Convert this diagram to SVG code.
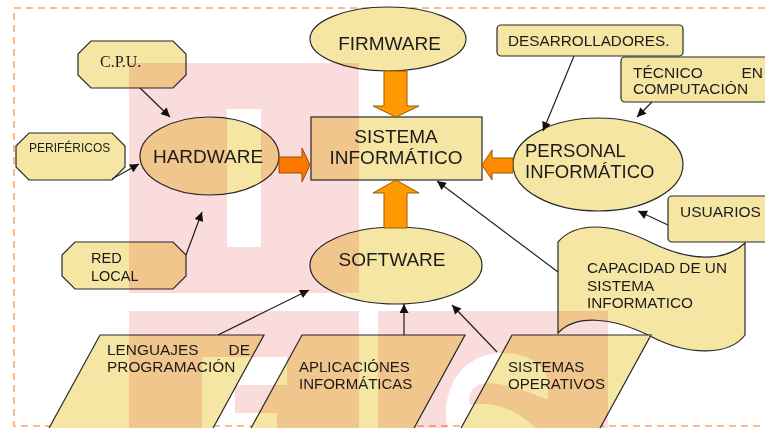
<svg xmlns="http://www.w3.org/2000/svg" width="765" height="428" viewBox="0 0 765 428">
<defs>
<style>
.n{fill:#F6E6A4;stroke:#2a2a2a;stroke-width:1.2}
.t{font-family:"Liberation Sans",Arial,sans-serif;fill:#1c1c1c}
.c{stroke:#222;stroke-width:1.2;fill:none}
.ba{stroke:#9a5a00;stroke-width:1}
</style>
<marker id="ah" viewBox="0 0 10 10" refX="10" refY="5" markerWidth="10" markerHeight="9" markerUnits="userSpaceOnUse" orient="auto">
<path d="M0,0 L10,5 L0,10 Z" fill="#111"/>
</marker>
</defs>
<rect x="0" y="0" width="765" height="428" fill="#fff"/>
<rect x="14" y="8" width="770" height="418" fill="none" stroke="#F9A56A" stroke-width="1.6" stroke-dasharray="7 5"/>

<g id="cpu"><path class="n" d="M91,41 H173 L186,54 V75 L173,88 H91 L78,75 V54 Z"/><text class="t" x="100" y="67" style="font-family:'Liberation Serif',serif" font-size="16">C.P.U.</text></g>
<g id="perifericos"><path class="n" d="M29,133 H112 L125,146 V167 L112,180 H29 L16,167 V146 Z"/><text class="t" x="29" y="152" font-size="12">PERIFÉRICOS</text></g>
<g id="redlocal"><path class="n" d="M75,242 H173 L186,255 V276 L173,289 H75 L62,276 V255 Z"/><text class="t" font-size="14.5"><tspan x="91" y="263">RED</tspan><tspan x="91" y="281">LOCAL</tspan></text></g>
<g id="hardware"><ellipse class="n" cx="209.5" cy="156" rx="69.5" ry="39"/><text class="t" x="208" y="163" font-size="19" text-anchor="middle">HARDWARE</text></g>
<g id="firmware"><ellipse class="n" cx="388" cy="39" rx="78" ry="32"/><text class="t" x="389.5" y="50" font-size="19" text-anchor="middle">FIRMWARE</text></g>
<g id="sistema"><rect class="n" x="311" y="117" width="171" height="63"/><text class="t" font-size="19" text-anchor="middle"><tspan x="396" y="143">SISTEMA</tspan><tspan x="396" y="164">INFORMÁTICO</tspan></text></g>
<g id="software"><ellipse class="n" cx="396" cy="265.5" rx="86" ry="38.5"/><text class="t" x="392" y="266" font-size="19" text-anchor="middle">SOFTWARE</text></g>
<g id="personal"><ellipse class="n" cx="598" cy="164.5" rx="85" ry="46.5"/><text class="t" font-size="18.5"><tspan x="525" y="157">PERSONAL</tspan><tspan x="525" y="178">INFORMÁTICO</tspan></text></g>
<g id="desarrolladores"><rect class="n" x="497" y="25" width="186" height="31" rx="4"/><text class="t" x="508" y="46" font-size="15.3">DESARROLLADORES.</text></g>
<g id="tecnico"><rect class="n" x="621" y="57" width="160" height="45" rx="4"/><text class="t" font-size="15.5"><tspan x="633" y="78">TÉCNICO</tspan><tspan x="763" y="78" text-anchor="end">EN</tspan><tspan x="633" y="94">COMPUTACIÓN</tspan></text></g>
<g id="usuarios"><rect class="n" x="668" y="196" width="110" height="46" rx="4"/><text class="t" x="680" y="217" font-size="15.5">USUARIOS</text></g>
<g id="capacidad"><path class="n" d="M558,242 C575,222 610,222 650,242 C690,262 725,262 745,243 L745,335 C730,355 690,357 650,336 C610,316 575,315 558,333 Z"/><text class="t" font-size="15.3"><tspan x="587" y="273">CAPACIDAD DE UN</tspan><tspan x="587" y="291">SISTEMA</tspan><tspan x="587" y="308">INFORMATICO</tspan></text></g>
<g id="lenguajes"><path class="n" d="M100,335 H264 L212,430 H48 Z"/><text class="t" font-size="15.4"><tspan x="107" y="355">LENGUAJES</tspan><tspan x="250" y="355" text-anchor="end">DE</tspan><tspan x="107" y="372">PROGRAMACIÓN</tspan></text></g>
<g id="aplicaciones"><path class="n" d="M302,335 H465 L413,430 H250 Z"/><text class="t" font-size="15"><tspan x="299" y="372">APLICACIÓNES</tspan><tspan x="299" y="389">INFORMÁTICAS</tspan></text></g>
<g id="sistemas"><path class="n" d="M512,335 H651 L599,430 H460 Z"/><text class="t" font-size="15.1"><tspan x="508" y="372">SISTEMAS</tspan><tspan x="508" y="389">OPERATIVOS</tspan></text></g>

<g id="connectors">
<line class="c" x1="140" y1="88" x2="170" y2="117" marker-end="url(#ah)"/>
<line class="c" x1="112" y1="179" x2="139" y2="164" marker-end="url(#ah)"/>
<line class="c" x1="186" y1="255" x2="202" y2="212" marker-end="url(#ah)"/>
<line class="c" x1="574" y1="56" x2="543" y2="131" marker-end="url(#ah)"/>
<line class="c" x1="652" y1="102" x2="637" y2="117" marker-end="url(#ah)"/>
<line class="c" x1="668" y1="225" x2="638" y2="211" marker-end="url(#ah)"/>
<line class="c" x1="558" y1="272" x2="437" y2="181" marker-end="url(#ah)"/>
<line class="c" x1="218" y1="335" x2="309" y2="290" marker-end="url(#ah)"/>
<line class="c" x1="404" y1="335" x2="404" y2="304" marker-end="url(#ah)"/>
<line class="c" x1="497" y1="352" x2="452" y2="305" marker-end="url(#ah)"/>
<path class="ba" fill="#FF9900" d="M384,71 H407 V106 H419 L396,117 L373,106 H384 Z"/>
<path class="ba" fill="#FF9900" d="M384,228 H407 V193 H419 L396,180 L373,193 H384 Z"/>
<path class="ba" fill="#FF8A00" d="M279,157 H302 V148 L310,165 L302,182 V173 H279 Z"/>
<path class="ba" fill="#FF8A00" d="M513,158 H492 V150 L482,165 L492,180 V173 H513 Z"/>
</g>

<g id="watermark" style="mix-blend-mode:multiply">
<path fill="#FADCDC" fill-rule="evenodd" d="M129,63 H359 V293 H129 Z M227,109 V247 H261 V109 Z"/>
<path fill="#FADCDC" d="M129,311 H608 V428 H129 Z"/>
<g fill="#fff">
<rect x="359" y="293" width="19" height="135"/>
<rect x="202" y="357" width="33" height="71"/>
<rect x="235" y="357" width="52" height="28"/>
<rect x="235" y="413" width="42" height="15"/>
<path d="M447,428 C440,385 465,352 505,353 C530,354 545,365 548,380 L548,428 Z"/>
</g>
<path fill="#FADCDC" d="M478,385 C495,378 530,392 560,405 L560,428 L535,428 C520,412 495,400 470,405 C468,396 470,390 478,385 Z"/>
</g>
</svg>
